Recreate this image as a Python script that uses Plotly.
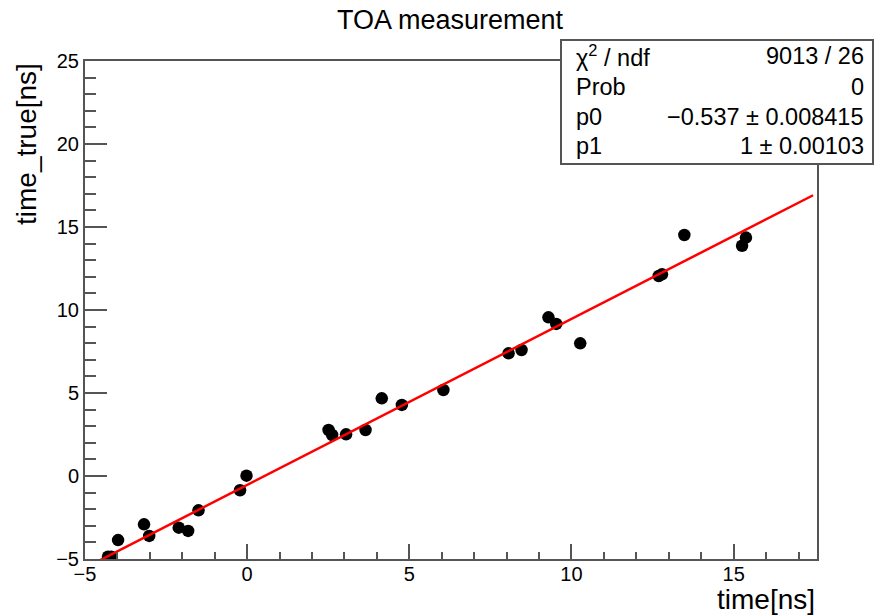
import plotly.graph_objects as go

# Data points
time_ns = [-4.29, -4.19, -3.98, -3.18, -3.02, -2.11, -1.82, -1.50, -0.22, -0.02,
           2.51, 2.62, 3.05, 3.65, 4.15, 4.77, 6.05,
           8.06, 8.46, 9.29, 9.53, 10.27,
           12.69, 12.79, 13.48, 15.26, 15.38]
time_true_ns = [-4.86, -4.86, -3.86, -2.91, -3.61, -3.11, -3.31, -2.07, -0.86, 0.02,
                2.77, 2.47, 2.51, 2.77, 4.68, 4.28, 5.18,
                7.39, 7.59, 9.56, 9.16, 7.99,
                12.05, 12.15, 14.52, 13.87, 14.36]

# Fit parameters
p0 = -0.537
p1 = 1.0
fit_x = [-5.0, 17.45]

# Stats box contents
stat_labels = ["χ<sup>2</sup> / ndf", "Prob", "p0", "p1"]
stat_values = ["9013 / 26", "0", "−0.537 ± 0.008415", "1 ± 0.00103"]

FONT = "Liberation Sans, Arial, Helvetica, sans-serif"
W, H = 889, 616
L, R, T, B = 85, 817, 61, 559  # plot area pixels
pw, ph = R - L, B - T

def px_x(x):
    return (x - L) / pw

def px_y(y):
    return (B - y) / ph

fig = go.Figure()
fig.add_trace(go.Scatter(
    x=time_ns, y=time_true_ns, mode="markers",
    marker=dict(color="black", size=12.5, line=dict(width=0)),
    showlegend=False, hoverinfo="x+y"))
fig.add_trace(go.Scatter(
    x=fit_x, y=[p0 + p1 * v for v in fit_x], mode="lines",
    line=dict(color="red", width=2.5), showlegend=False))

axis_common = dict(
    showline=True, linecolor="#555555", linewidth=2, mirror=True,
    showgrid=False, zeroline=False, ticks="inside", tickcolor="#555555",
    tickwidth=2, tickfont=dict(family=FONT, size=20, color="black"),
)
fig.update_xaxes(range=[-5, 17.57], dtick=5, tick0=0, ticklen=15, ticklabelstandoff=-4,
                 minor=dict(dtick=1, ticks="inside", ticklen=7, tickcolor="#555555", tickwidth=2),
                 **axis_common)
fig.update_yaxes(range=[-5, 25], dtick=5, tick0=0, ticklen=22,
                 minor=dict(dtick=1, ticks="inside", ticklen=11, tickcolor="#555555", tickwidth=2),
                 **axis_common)

# Stats box
fig.add_shape(type="rect", xref="paper", yref="paper",
              x0=px_x(561), x1=px_x(873), y0=px_y(164), y1=px_y(40),
              fillcolor="white", line=dict(color="#555555", width=2), layer="above")
row_y = [56, 87, 117, 146]
annotations = []
for lab, val, ry in zip(stat_labels, stat_values, row_y):
    annotations.append(dict(text=lab, xref="paper", yref="paper", x=px_x(574), y=px_y(ry),
                            xanchor="left", yanchor="middle", showarrow=False,
                            font=dict(family=FONT, size=23.5, color="black")))
    annotations.append(dict(text=val, xref="paper", yref="paper", x=px_x(866), y=px_y(ry),
                            xanchor="right", yanchor="middle", showarrow=False,
                            font=dict(family=FONT, size=23.5, color="black")))

# Axis titles (ROOT style, at axis ends)
annotations.append(dict(text="time[ns]", xref="paper", yref="paper", x=1.0, y=px_y(599),
                        xanchor="right", yanchor="middle", showarrow=False,
                        font=dict(family=FONT, size=28, color="black")))
annotations.append(dict(text="time_true[ns]", xref="paper", yref="paper", x=px_x(26), y=1.0,
                        xanchor="center", yanchor="top", textangle=-90, showarrow=False,
                        font=dict(family=FONT, size=28, color="black")))
fig.update_layout(annotations=annotations)

fig.update_layout(
    width=W, height=H,
    margin=dict(l=L, r=W - R, t=T, b=H - B),
    paper_bgcolor="white", plot_bgcolor="white",
    title=dict(text="TOA measurement", x=450 / W, xanchor="center",
               y=1 - 20 / H, yanchor="middle", xref="container", yref="container",
               font=dict(family=FONT, size=27, color="black")),
)

fig.write_html("out.html", config={"displayModeBar": False},
               post_script="document.body.style.margin='0';document.body.style.overflow='hidden';")
